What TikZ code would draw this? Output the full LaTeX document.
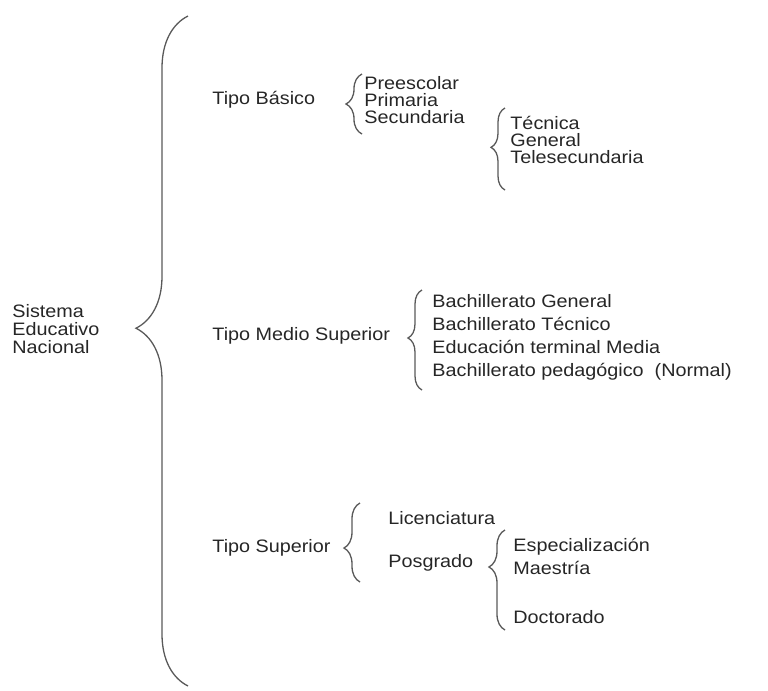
\documentclass[tikz,border=0pt]{standalone}
\usepackage{fontspec}
\setmainfont[FakeStretch=1.1]{Liberation Sans}
\usetikzlibrary{decorations.pathreplacing}
\begin{document}
\begin{tikzpicture}[x=0.5pt,y=-0.5pt,
  brc/.style={draw=black!65, line width=0.65pt, decorate,
    decoration={brace, amplitude=#1}},
  brc/.default=8pt,
  lbl/.style={anchor=west, inner sep=0pt, text=black!85, align=left,
    font=\fontsize{9}{9}\selectfont},
  lst/.style={lbl, font=\fontsize{9}{11.5}\selectfont}]
\useasboundingbox (0,0) rectangle (768,691);
% Root
\node[lbl] (sen) at (12, 329) {Sistema\\Educativo\\Nacional};
\coordinate (sen-bot) at (188, 686);
\coordinate (sen-top) at (188, 16);
\draw[brc=26pt, decoration={aspect=0.534}] (sen-bot) -- (sen-top);
% Tipo Basico
\node[lbl] (basico) at (212, 100) {Tipo Básico};
\coordinate (bas-bot) at (362, 134);
\coordinate (bas-top) at (362, 74);
\draw[brc] (bas-bot) -- (bas-top);
\node[lbl, font=\fontsize{9}{8.5}\selectfont] (niveles) at (364, 100)
  {Preescolar\\Primaria\\Secundaria};
  % Secundaria
  \coordinate (sec-bot) at (505, 190);
  \coordinate (sec-top) at (505, 108);
  \draw[brc=7pt, decoration={aspect=0.52}] (sec-bot) -- (sec-top);
  \node[lbl, font=\fontsize{9}{8.5}\selectfont] (modsec) at (510, 140)
    {Técnica\\General\\Telesecundaria};
% Tipo Medio Superior
\node[lbl] (medio) at (212, 336) {Tipo Medio Superior};
\coordinate (med-bot) at (422, 390);
\coordinate (med-top) at (422, 290);
\draw[brc=7pt, decoration={aspect=0.52}] (med-bot) -- (med-top);
\node[lst] (bachs) at (432, 337)
  {Bachillerato General\\Bachillerato Técnico\\Educación terminal Media\\Bachillerato pedagógico~ (Normal)};
% Tipo Superior
\node[lbl] (superior) at (212, 548) {Tipo Superior};
\coordinate (sup-bot) at (360, 582);
\coordinate (sup-top) at (360, 503);
\draw[brc, decoration={aspect=0.43}] (sup-bot) -- (sup-top);
\node[lbl] (lic) at (388, 518) {Licenciatura};
\node[lbl] (pos) at (388, 563) {Posgrado};
  % Posgrado
  \coordinate (pos-bot) at (505, 630);
  \coordinate (pos-top) at (505, 530);
  \draw[brc, decoration={aspect=0.63}] (pos-bot) -- (pos-top);
  \node[lst] (espmae) at (513, 556) {Especialización\\Maestría};
  \node[lbl] (doc) at (513, 617) {Doctorado};
\end{tikzpicture}
\end{document}
